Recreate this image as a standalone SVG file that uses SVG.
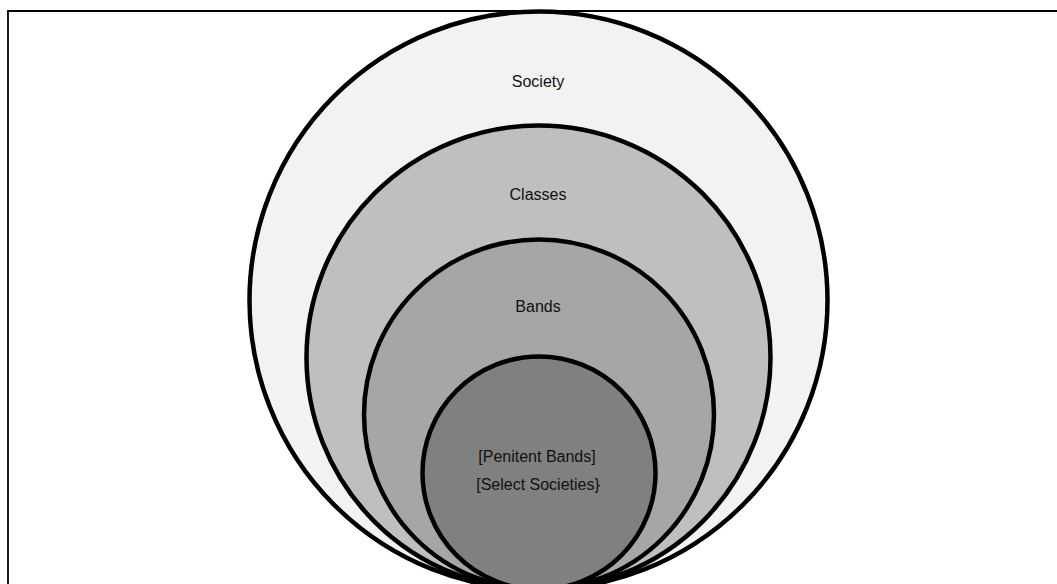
<svg xmlns="http://www.w3.org/2000/svg" width="1057" height="584" viewBox="0 0 1057 584">
<style>
.ring{stroke:#000;stroke-width:4.5}
.lbl{font-family:"Liberation Sans",Arial,sans-serif;font-size:16px;fill:#111;text-anchor:middle}
.frame{stroke:#000;stroke-width:1.8;fill:none}
</style>
<rect width="1057" height="584" fill="#fff"/>
<g id="frame">
<path class="frame" d="M8,584 L8,11 L1057,11"/>
</g>
<g id="society">
<circle class="ring" cx="538.5" cy="300.5" r="289" fill="#f2f2f2"/>
<text class="lbl" x="538" y="87">Society</text>
</g>
<g id="classes">
<circle class="ring" cx="538.5" cy="357.5" r="232" fill="#bfbfbf"/>
<text class="lbl" x="538" y="200">Classes</text>
</g>
<g id="bands">
<circle class="ring" cx="539" cy="414.5" r="175" fill="#a6a6a6"/>
<text class="lbl" x="538" y="312">Bands</text>
</g>
<g id="penitent">
<circle class="ring" cx="539" cy="473" r="116.5" fill="#808080"/>
<text class="lbl" x="537" y="462">[Penitent Bands]</text>
<text class="lbl" x="538" y="490">[Select Societies}</text>
</g>
</svg>
